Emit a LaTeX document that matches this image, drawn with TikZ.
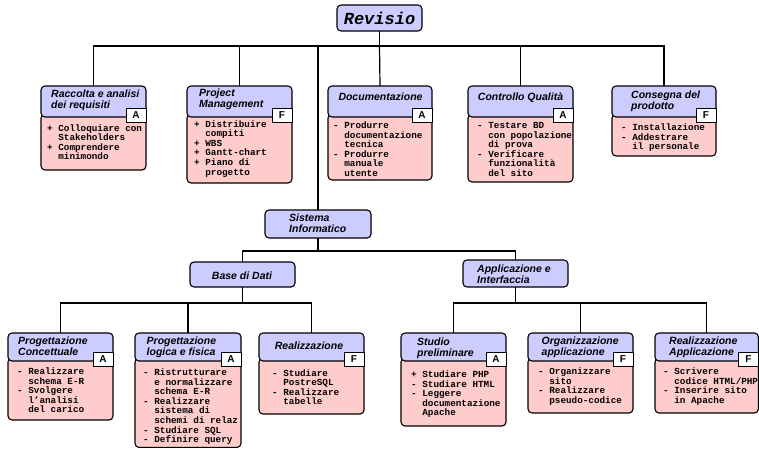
\documentclass[tikz,border=0pt]{standalone}
\usepackage{fontspec}
\setsansfont{Liberation Sans}
\setmonofont{Liberation Mono}
\definecolor{hdrc}{RGB}{204,204,255}
\definecolor{bodyc}{RGB}{255,204,204}
\newcommand\ml[1]{\vtop{\halign{##\hfil\cr#1\crcr}}}
\newcommand\ii{\hphantom{- }}
\tikzset{
 box/.style={draw=black, line width=1.1pt, rounded corners=4pt, inner sep=0pt, outer sep=0pt, rectangle},
 hdrbox/.style={box, fill=hdrc},
 bodybox/.style={box, fill=bodyc},
 letterbox/.style={draw=black, line width=1pt, fill=white, inner sep=0pt, outer sep=0pt, minimum width=20pt, minimum height=14pt, font=\sffamily\bfseries\fontsize{10}{10}\selectfont},
 htext/.style={inner sep=0pt, font=\sffamily\bfseries\itshape\fontsize{10.5}{11}\selectfont},
 btext/.style={inner sep=0pt, anchor=base west, font=\ttfamily\bfseries\fontsize{9.3}{9.6}\selectfont},
 conn/.style={line width=1.2pt},
}
% #1 name, #2 x1, #3 top, #4 x2, #5 header bottom, #6 body bottom, #7 letter
\newcommand\taskbox[7]{%
 \node[bodybox, anchor=north west, minimum width={(#4-#2)*1pt}, minimum height={(#6-#5+3)*1pt}] (#1-b) at (#2,#5-3) {};
 \node[hdrbox, anchor=north west, minimum width={(#4-#2)*1pt}, minimum height={(#5-#3)*1pt}] (#1) at (#2,#3) {};
 \node[letterbox, anchor=north east] (#1-l) at (#4,#5-9) {#7};
}
\begin{document}
\begin{tikzpicture}[x=1pt,y=-1pt]
\useasboundingbox (0,0) rectangle (759,448);

% root
\node[hdrbox, minimum width=85pt, minimum height=26pt, font=\ttfamily\bfseries\itshape\fontsize{17}{17}\selectfont] (rev) at (379.5,18) {Revisio};

% level 1
\taskbox{rac}{41}{86}{146}{117}{170}{A}
\taskbox{pm}{187}{86}{292}{117}{183}{F}
\taskbox{doc}{328}{86}{432}{117}{180}{A}
\taskbox{ctl}{468}{86}{573}{117}{182}{A}
\taskbox{cons}{612}{86}{716}{117}{156}{F}

\node[htext, anchor=base west] (rac-t) at (51,97.5) {\ml{Raccolta e analisi\cr dei requisiti}};
\node[htext, anchor=base west] (pm-t) at (199,96.5) {\ml{Project\cr Management}};
\node[htext, anchor=base] (doc-t) at (380.5,100.5) {Documentazione};
\node[htext, anchor=base] (ctl-t) at (520.5,100.5) {Controllo Qualità};
\node[htext, anchor=base west] (cons-t) at (631,98.5) {\ml{Consegna del\cr prodotto}};

\node[btext] (rac-x) at (47,131) {\ml{+ Colloquiare con\cr\ii Stakeholders\cr+ Comprendere\cr\ii minimondo}};
\node[btext] (pm-x) at (194,127) {\ml{+ Distribuire\cr\ii compiti\cr+ WBS\cr+ Gantt-chart\cr+ Piano di\cr\ii progetto}};
\node[btext] (doc-x) at (333,128.5) {\ml{- Produrre\cr\ii documentazione\cr\ii tecnica\cr- Produrre\cr\ii manuale\cr\ii utente}};
\node[btext] (ctl-x) at (477,128.5) {\ml{- Testare BD\cr\ii con popolazione\cr\ii di prova\cr- Verificare\cr\ii funzionalità\cr\ii del sito}};
\node[btext] (cons-x) at (621,130.5) {\ml{- Installazione\cr- Addestrare\cr\ii il personale}};

% level 2
\node[hdrbox, anchor=north west, minimum width=106pt, minimum height=28pt] (sis) at (265,210) {};
\node[htext, anchor=base west] (sis-t) at (289,221.5) {\ml{Sistema\cr Informatico}};
\node[hdrbox, anchor=north west, minimum width=105pt, minimum height=25pt] (bdd) at (190,262) {};
\node[htext, anchor=base] (bdd-t) at (242,279) {Base di Dati};
\node[hdrbox, anchor=north west, minimum width=105pt, minimum height=27pt] (app) at (463,260) {};
\node[htext, anchor=base west] (app-t) at (477,272.5) {\ml{Applicazione e\cr Interfaccia}};

% level 3
\taskbox{pc}{8}{333}{113}{361}{420}{A}
\taskbox{pl}{135}{333}{241}{361}{447.4}{A}
\taskbox{rz}{259}{333}{364}{361}{414}{F}
\taskbox{st}{401}{333}{506}{361}{426}{A}
\taskbox{org}{528}{333}{633}{361}{413}{F}
\taskbox{ra}{655}{333}{758.4}{361}{413}{F}

\node[htext, anchor=base west] (pc-t) at (18,344) {\ml{Progettazione\cr Concettuale}};
\node[htext, anchor=base west] (pl-t) at (146.5,344) {\ml{Progettazione\cr logica e fisica}};
\node[htext, anchor=base] (rz-t) at (309,349.5) {Realizzazione};
\node[htext, anchor=base west] (st-t) at (417,345) {\ml{Studio\cr preliminare}};
\node[htext, anchor=base west] (org-t) at (541.5,344) {\ml{Organizzazione\cr applicazione}};
\node[htext, anchor=base west] (ra-t) at (669,344.5) {\ml{Realizzazione\cr Applicazione}};

\node[btext] (pc-x) at (17,374.5) {\ml{- Realizzare\cr\ii schema E-R\cr- Svolgere\cr\ii l’analisi\cr\ii del carico}};
\node[btext] (pl-x) at (143,375.5) {\ml{- Ristrutturare\cr\ii e normalizzare\cr\ii schema E-R\cr- Realizzare\cr\ii sistema di\cr\ii schemi di relaz\cr- Studiare SQL\cr- Definire query}};
\node[btext] (rz-x) at (272,376) {\ml{- Studiare\cr\ii PostreSQL\cr- Realizzare\cr\ii tabelle}};
\node[btext] (st-x) at (411,377.5) {\ml{+ Studiare PHP\cr- Studiare HTML\cr- Leggere\cr\ii documentazione\cr\ii Apache}};
\node[btext] (org-x) at (538,374.5) {\ml{- Organizzare\cr\ii sito\cr- Realizzare\cr\ii pseudo-codice}};
\node[btext] (ra-x) at (663,374.5) {\ml{- Scrivere\cr\ii codice HTML/PHP\cr- Inserire sito\cr\ii in Apache}};

% connectors
\coordinate (b1) at (380,46);
\draw[conn] (rac.north) |- (b1) -| (cons.north);
\draw[line width=1.8pt] (pm.north |- b1) -- (ctl.north |- b1);
\draw[conn] (pm.north) -- (pm.north |- b1);
\draw[conn] (ctl.north) -- (ctl.north |- b1);
\draw[line width=1.8pt] (rev.south) -- (rev.south |- b1);
\draw[conn] (rev.south |- b1) -- (doc.north);
\draw[conn] (sis.north) -- (sis.north |- b1);
\coordinate (b2) at (318,251);
\draw[conn] (sis.south) -- (b2);
\draw[conn] (bdd.north) |- (b2) -| (app.north);
\coordinate (b3) at (242,303);
\draw[conn] (pc.north) |- (b3) -| (rz.north);
\draw[conn] (pl.north) -- (pl.north |- b3);
\draw[conn] (bdd.south) -- (bdd.south |- b3);
\coordinate (b4) at (515,303);
\draw[conn] (st.north) |- (b4) -| (ra.north);
\draw[conn] (org.north) -- (org.north |- b4);
\draw[conn] (app.south) -- (app.south |- b4);
\end{tikzpicture}
\end{document}
